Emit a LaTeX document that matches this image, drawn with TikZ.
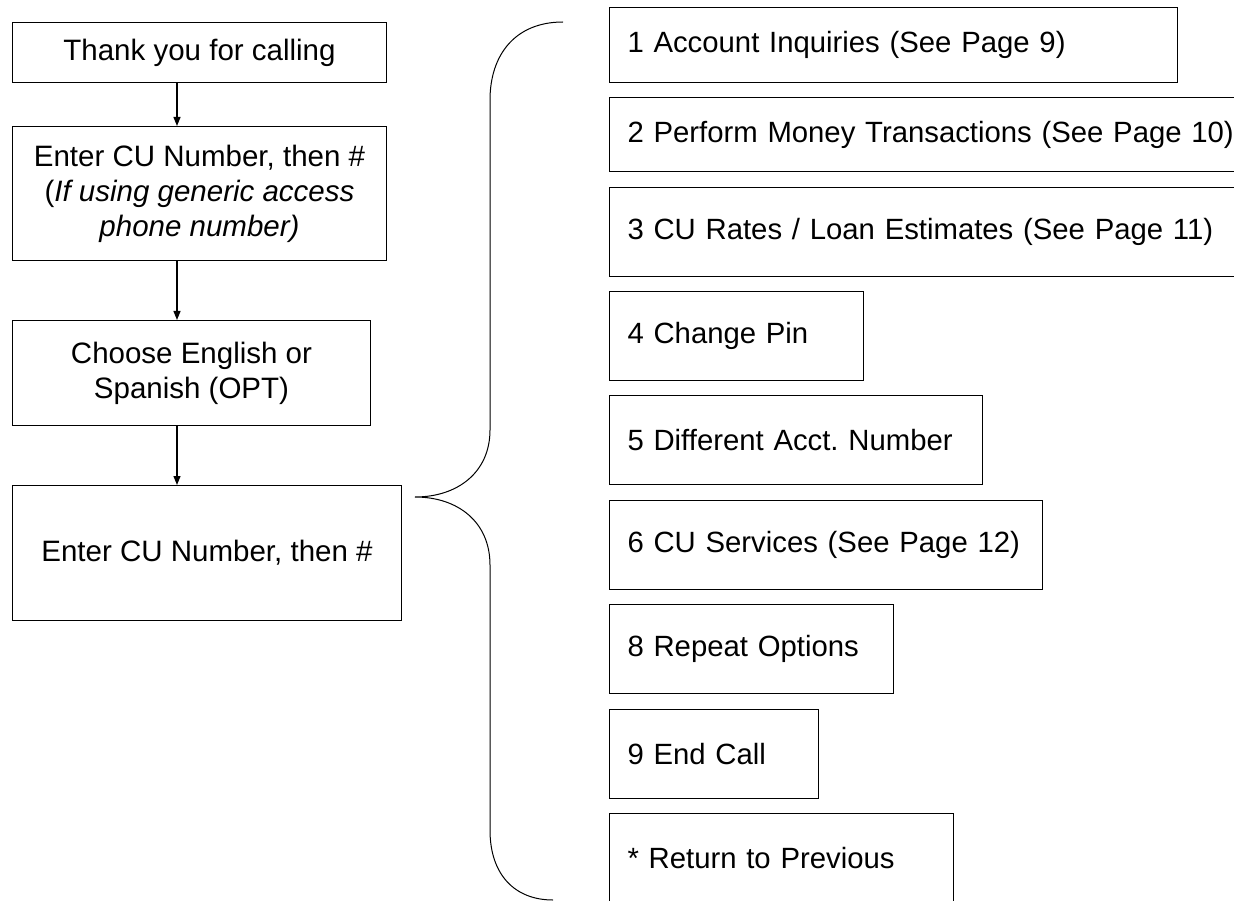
\documentclass[tikz,border=0pt]{standalone}
\usepackage{fontspec}
\setmainfont{Liberation Sans}
\usetikzlibrary{arrows.meta}
\frenchspacing

\begin{document}
\begin{tikzpicture}[x=1pt, y=-1pt,
  flowbox/.style={draw, line width=1pt, anchor=north west, align=center, inner sep=0pt, font=\fontsize{29.5}{35}\selectfont},
  menubox/.style={draw, line width=1pt, anchor=north west, align=left, inner xsep=18pt, inner ysep=0pt, minimum height=89pt, font=\fontsize{29.3}{35}\selectfont},
  flowarrow/.style={-{Triangle[length=9pt,width=7pt]}, line width=1.2pt}]
\useasboundingbox (0,0) rectangle (1234,901);
\node[flowbox, minimum width=374pt, minimum height=60pt] (thanks) at (12,22) {\raisebox{-2pt}{Thank you for calling}};
\node[flowbox, minimum width=374pt, minimum height=134pt] (entercu) at (12,126) {Enter CU Number, then \#\\(\textit{If using generic access}\\\textit{phone number)}};
\node[flowbox, minimum width=358pt, minimum height=105pt] (language) at (12,320) {Choose English or\\Spanish (OPT)};
\node[flowbox, minimum width=389pt, minimum height=135pt] (cunum) at (12,485) {Enter CU Number, then \#};
\coordinate (spine) at (177,0);
\draw[flowarrow] (thanks.south -| spine) -- (entercu.north -| spine);
\draw[flowarrow] (entercu.south -| spine) -- (language.north -| spine);
\draw[flowarrow] (language.south -| spine) -- (cunum.north -| spine);

\coordinate (tip) at (415,497);
\draw[line width=1pt] (563,22) .. controls (515,22) and (490,55) .. (490,100) -- (490,430) .. controls (490,472) and (458,497) .. (tip) .. controls (458,497) and (490,522) .. (490,565) -- (490,830) .. controls (490,875) and (515,900) .. (553,900);

\node[menubox, text width=532pt, minimum height=75pt] (inq) at (609,7) {1 Account Inquiries (See Page 9)};
\node[menubox, text width=615pt, minimum height=74pt] (money) at (609,97) {2 Perform Money Transactions (See Page 10)};
\node[menubox, text width=615pt] (rates) at (609,187) {3 CU Rates / Loan Estimates (See Page 11)};
\node[menubox, text width=218pt] (pin) at (609,291) {4 Change Pin};
\node[menubox, text width=337pt] (acct) at (609,395) {5 Different Acct. Number};
\node[menubox, text width=397pt] (serv) at (609,500) {6 CU Services (See Page 12)};
\node[menubox, text width=248pt] (again) at (609,604) {8 Repeat Options};
\node[menubox, text width=173pt] (endcall) at (609,709) {9 End Call};
\node[menubox, text width=308pt] (back) at (609,813) {* Return to Previous};
\end{tikzpicture}
\end{document}
